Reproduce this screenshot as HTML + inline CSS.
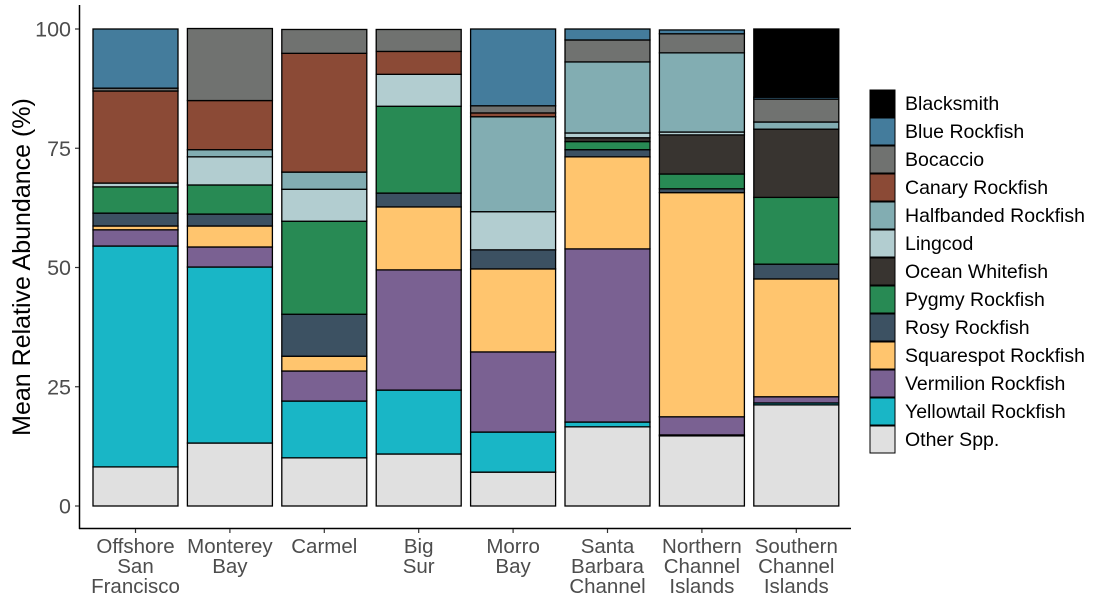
<!DOCTYPE html>
<html><head><meta charset="utf-8"><style>
body{margin:0;background:#fff;}
svg text{font-family:"Liberation Sans",Arial,sans-serif;}
</style></head><body>
<svg id="chart" width="1105" height="599" xmlns="http://www.w3.org/2000/svg"></svg>
<script>
const regions = [["Offshore","San","Francisco"],["Monterey","Bay"],["Carmel"],["Big","Sur"],["Morro","Bay"],["Santa","Barbara","Channel"],["Northern","Channel","Islands"],["Southern","Channel","Islands"]];
const species = ["Other Spp.","Yellowtail Rockfish","Vermilion Rockfish","Squarespot Rockfish","Rosy Rockfish","Pygmy Rockfish","Ocean Whitefish","Lingcod","Halfbanded Rockfish","Canary Rockfish","Bocaccio","Blue Rockfish","Blacksmith"];
const colors = ["#e0e0e0","#19b6c6","#7a6192","#ffc56e","#3c5162","#288a54","#383430","#b2cdd0","#82adb2","#8b4a36","#707270","#447c9c","#000000"];
const otherSpp   = [8.2,13.2,10.1,10.9,7.1,16.6,14.7,21.2];
const yellowtail = [46.3,36.9,11.9,13.4,8.4,1.0,0.2,0.4];
const vermilion  = [3.4,4.2,6.3,25.2,16.8,36.3,3.8,1.3];
const squarespot = [0.8,4.4,3.1,13.2,17.4,19.3,47.0,24.7];
const rosy       = [2.7,2.5,8.8,2.9,4.0,1.5,0.8,3.1];
const pygmy      = [5.5,6.1,19.5,18.2,0,1.7,3.1,14.0];
const oceanWhite = [0,0,0,0,0,0.8,8.2,14.3];
const lingcod    = [0.8,5.9,6.7,6.7,8.0,1.0,0.6,0];
const halfbanded = [0,1.5,3.6,0,19.9,14.9,16.6,1.5];
const canary     = [19.3,10.3,24.9,4.8,0.8,0,0,0];
const bocaccio   = [0.6,15.1,5.0,4.6,1.5,4.6,4.0,4.8];
const blue       = [12.4,0,0,0,16.1,2.3,0.8,0.4];
const blacksmith = [0,0,0,0,0,0,0,14.3];
const yTicks = [0,25,50,75,100];

const series=[otherSpp,yellowtail,vermilion,squarespot,rosy,pygmy,oceanWhite,lingcod,halfbanded,canary,bocaccio,blue,blacksmith];
const NS="http://www.w3.org/2000/svg";
const svg=document.getElementById('chart');
function el(t,a,p){const e=document.createElementNS(NS,t);for(const k in a)e.setAttribute(k,a[k]);(p||svg).appendChild(e);return e;}
const y0=506,y100=29;
const yScale=v=>y0-(v/100)*(y0-y100);
const step=94.4,bw=85,x0=93;
const xScale=i=>x0+i*step;

const ax=el('line',{x1:79.5,y1:5,x2:79.5,y2:529,stroke:'#000','stroke-width':1.5});


const bx=el('line',{x1:79,y1:528.5,x2:851,y2:528.5,stroke:'#000','stroke-width':1.5});


yTicks.forEach(t=>{
  const y=yScale(t);
  const tk=el('line',{x1:75,y1:y,x2:79,y2:y,stroke:'#333','stroke-width':1.2});
  
  
  const tx=el('text',{x:71,y:y+7.5,'text-anchor':'end','font-size':21.5,fill:'#4d4d4d'});
  tx.textContent=t;
  
  
});
const yt=el('text',{x:0,y:0,transform:'translate(30,267) rotate(-90)','text-anchor':'middle','font-size':25,fill:'#000'});
yt.textContent='Mean Relative Abundance (%)';



regions.forEach((r,i)=>{
  let cum=0;
  const x=xScale(i);
  series.forEach((s,j)=>{
    const v=s[i]; if(v<=0)return;
    const yt1=yScale(cum+v), yb=yScale(cum);
    const rc=el('rect',{x:x,y:yt1,width:bw,height:yb-yt1,fill:colors[j],stroke:'#000','stroke-width':1.3});
    
    
    cum+=v;
  });
  const cx=x+bw/2;
  const tk=el('line',{x1:cx,y1:529,x2:cx,y2:533,stroke:'#333','stroke-width':1.2});
  
  
  r.forEach((line,k)=>{
    const t=el('text',{x:cx,y:553+k*20,'text-anchor':'middle','font-size':20.5,fill:'#4d4d4d'});
    t.textContent=line;
    
    
  });
});

const g=el('g',{});


for(let k=0;k<species.length;k++){
  const j=species.length-1-k;
  const y=90+k*28;
  const r=el('rect',{x:870,y:y,width:25,height:27,fill:colors[j],stroke:'#000','stroke-width':1},g);
  
  
  const t=el('text',{x:905,y:y+20,'font-size':19.5,fill:'#000'},g);
  t.textContent=species[j];
  
  
}
</script>
</body></html>
